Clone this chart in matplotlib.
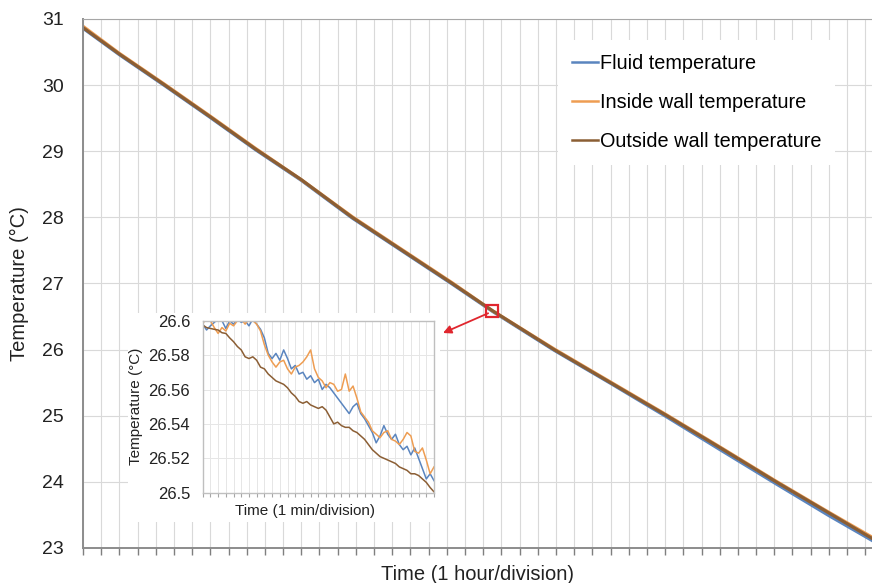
import numpy as np
import matplotlib
matplotlib.use('Agg')
import matplotlib.pyplot as plt
from matplotlib.patches import Rectangle
from matplotlib.ticker import FuncFormatter, MultipleLocator

plt.rcParams['font.family'] = ['Liberation Sans', 'DejaVu Sans']

# ---- main chart data (hours, degC) ----
horas = [0, 2, 4.5, 7, 9.5, 12, 14.8, 17, 20.3, 22.5, 25.9, 29, 32.1, 35, 38.1, 41, 43.4]
t_fluido = [30.86, 30.46, 29.99, 29.51, 29.02, 28.56, 27.99, 27.59, 26.99, 26.58, 25.99, 25.49,
            24.98, 24.49, 23.97, 23.49, 23.11]
t_pared_int = [30.89, 30.48, 30.01, 29.53, 29.04, 28.57, 28.01, 27.61, 27.01, 26.59, 26.01, 25.51,
               25.01, 24.53, 24.01, 23.54, 23.16]
t_pared_ext = [30.87, 30.47, 30.00, 29.52, 29.03, 28.57, 28.00, 27.60, 27.00, 26.59, 26.00, 25.50,
               25.00, 24.52, 24.00, 23.53, 23.14]

# ---- zoomed window (minutes, degC) ----
minutos = [i * 0.5 for i in range(61)]
z_fluido = [26.598, 26.5946, 26.597, 26.599, 26.601, 26.600, 26.5955, 26.600, 26.598, 26.601,
            26.599, 26.600, 26.597, 26.601, 26.598, 26.595, 26.590, 26.581, 26.578, 26.581,
            26.577, 26.583, 26.578, 26.572, 26.574, 26.569, 26.570, 26.566, 26.568, 26.564,
            26.566, 26.560, 26.563, 26.561, 26.558, 26.555, 26.552, 26.549, 26.546, 26.550,
            26.552, 26.546, 26.543, 26.539, 26.535, 26.529, 26.533, 26.539, 26.534, 26.531,
            26.534, 26.528, 26.525, 26.527, 26.522, 26.526, 26.520, 26.514, 26.508, 26.511,
            26.507]
z_pared_int = [26.5985, 26.601, 26.600, 26.596, 26.5926, 26.596, 26.594, 26.5985, 26.597, 26.600,
               26.601, 26.598, 26.601, 26.600, 26.598, 26.594, 26.586, 26.580, 26.576, 26.573,
               26.576, 26.577, 26.572, 26.569, 26.573, 26.574, 26.576, 26.579, 26.583, 26.572,
               26.567, 26.565, 26.561, 26.564, 26.563, 26.559, 26.560, 26.569, 26.559, 26.562,
               26.555, 26.547, 26.544, 26.541, 26.536, 26.534, 26.532, 26.535, 26.536, 26.531,
               26.530, 26.528, 26.531, 26.535, 26.533, 26.524, 26.523, 26.526, 26.519, 26.511,
               26.515]
z_pared_ext = [26.5975, 26.596, 26.5955, 26.595, 26.5946, 26.593, 26.5926, 26.590, 26.5878, 26.585,
               26.583, 26.579, 26.578, 26.579, 26.577, 26.573, 26.572, 26.569, 26.567, 26.565,
               26.564, 26.563, 26.561, 26.558, 26.556, 26.553, 26.552, 26.553, 26.551, 26.550,
               26.549, 26.550, 26.548, 26.544, 26.540, 26.541, 26.539, 26.538, 26.538, 26.536,
               26.535, 26.533, 26.531, 26.528, 26.525, 26.523, 26.521, 26.520, 26.519, 26.518,
               26.517, 26.515, 26.514, 26.513, 26.511, 26.511, 26.510, 26.508, 26.506, 26.503,
               26.5005]

zoom_centro = (22.47, 26.58)

azul = '#5A85BF'
naranja = '#EE9D52'
marron = '#8B5E34'
rojo = '#E0262E'
rejilla = '#D9D9D9'

fig = plt.figure(figsize=(8.72, 5.83), dpi=100)
ax = fig.add_axes([83/872, 1 - 548/583, 1 - 83/872, (548 - 19)/583])

ax.plot(horas, t_fluido, color=azul, lw=2.3, label='Fluid temperature')
ax.plot(horas, t_pared_int, color=naranja, lw=2.3, label='Inside wall temperature')
ax.plot(horas, t_pared_ext, color=marron, lw=2.3, label='Outside wall temperature')

ax.set_xlim(0, 43.37)
ax.set_ylim(23, 31)
ax.xaxis.set_major_locator(MultipleLocator(1))
ax.yaxis.set_major_locator(MultipleLocator(1))
ax.set_xticklabels([])
ax.grid(True, color=rejilla, lw=0.8)
ax.set_axisbelow(True)
ax.tick_params(axis='x', direction='out', length=5, width=1, color='#7F7F7F')
ax.tick_params(axis='y', length=0, pad=14, labelsize=14, labelcolor='#222222')
for lado in ['left', 'bottom']:
    ax.spines[lado].set_color('#8C8C8C')
    ax.spines[lado].set_linewidth(1.4)
ax.spines['top'].set_color('#A6A6A6')
ax.spines['right'].set_visible(False)

ax.set_ylabel('Temperature (°C)', fontsize=14.5, color='#222222')
ax.yaxis.set_label_coords((29 - 83) / 789, 0.5)
ax.set_xlabel('Time (1 hour/division)', fontsize=14.5, color='#222222')
ax.xaxis.set_label_coords(0.5, -(565 - 548) / 529)

leg = ax.legend(loc='upper left', bbox_to_anchor=(558/872, 1 - 40/583), bbox_transform=fig.transFigure,
                frameon=True, fancybox=False, edgecolor='none', facecolor='white', framealpha=1,
                fontsize=14.3, handlelength=1.3, handletextpad=0.1, labelspacing=1.0,
                borderpad=0.7, borderaxespad=0)
for linea in leg.get_lines():
    linea.set_linewidth(1.8)

# red marker for zoomed window + arrow
ax.plot(*zoom_centro, marker='s', ms=8, mfc='none', mec=rojo, mew=1.6, zorder=5)
ax.annotate('', xy=(443/872, 1 - 333/583), xycoords='figure fraction',
            xytext=(zoom_centro[0] - 0.2, zoom_centro[1] - 0.03), textcoords='data',
            arrowprops=dict(arrowstyle='-|>', color=rojo, lw=1.3, shrinkA=0, shrinkB=0,
                            mutation_scale=12))

# white background behind inset
fig.patches.append(Rectangle((128/872, 1 - 522/583), (440 - 128)/872, (522 - 313)/583,
                             transform=fig.transFigure, facecolor='white', edgecolor='none', zorder=2))

axi = fig.add_axes([202.7/872, 1 - 492.7/583, 231.3/872, 172/583], zorder=3)
axi.set_facecolor('white')
axi.plot(minutos, z_fluido, color=azul, lw=1.1)
axi.plot(minutos, z_pared_int, color=naranja, lw=1.1)
axi.plot(minutos, z_pared_ext, color=marron, lw=1.1)
axi.set_xlim(0, 30)
axi.set_ylim(26.5, 26.6)
axi.xaxis.set_major_locator(MultipleLocator(1))
axi.yaxis.set_major_locator(MultipleLocator(0.02))
axi.yaxis.set_major_formatter(FuncFormatter(lambda v, p: f'{v:.2f}'.rstrip('0')))
axi.set_xticklabels([])
axi.grid(True, color='#E6E6E6', lw=0.7)
axi.set_axisbelow(True)
axi.tick_params(axis='x', direction='out', length=3, width=0.8, color='#A6A6A6')
axi.tick_params(axis='y', length=0, pad=9, labelsize=12, labelcolor='#222222')
for lado in axi.spines.values():
    lado.set_color('#BFBFBF')
    lado.set_linewidth(1)
axi.set_ylabel('Temperature (°C)', fontsize=11, color='#222222')
axi.yaxis.set_label_coords((143 - 202.7) / 231.3, 0.5)
axi.set_xlabel('Time (1 min/division)', fontsize=11, color='#222222')
axi.xaxis.set_label_coords((305 - 202.7) / 231.3, -(504 - 492.7) / 172)

fig.savefig('out.png', dpi=100)
